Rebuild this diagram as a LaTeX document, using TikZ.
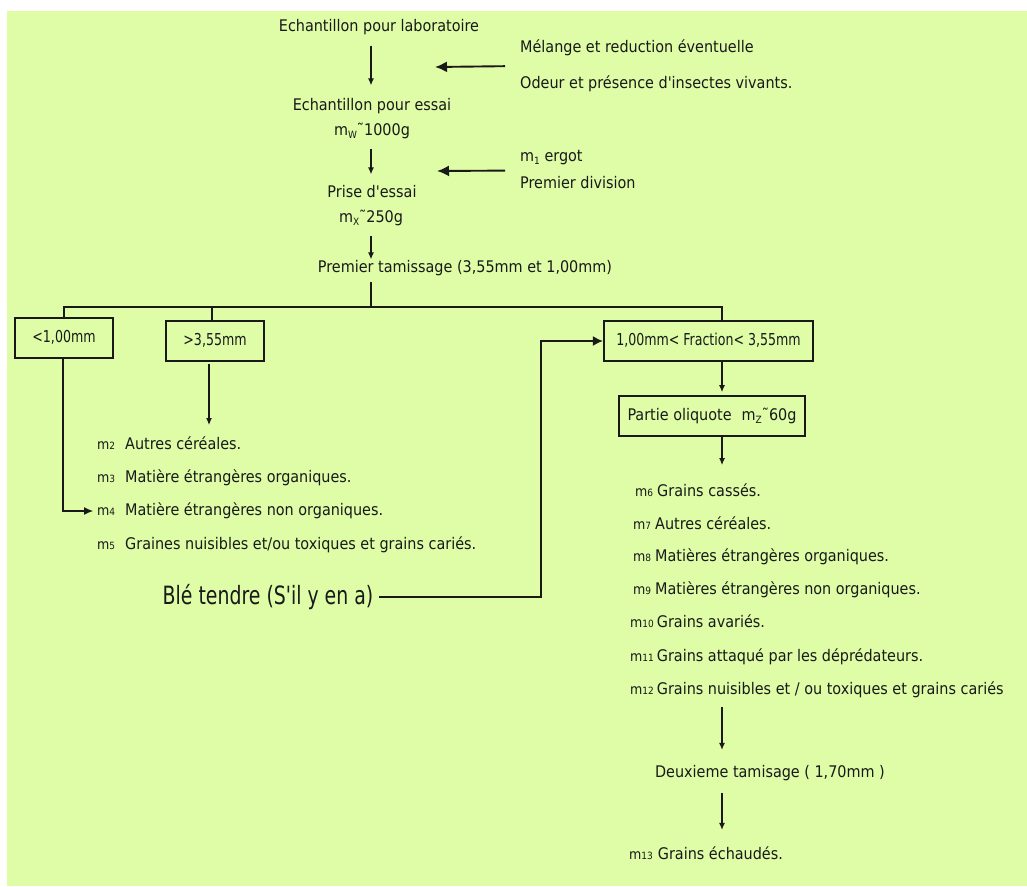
\documentclass[tikz,border=0pt]{standalone}
\usepackage{fontspec}
\setmainfont{DejaVu Sans Condensed}
\usetikzlibrary{arrows.meta,calc}
\definecolor{bg}{RGB}{222,253,166}
\definecolor{ink}{RGB}{25,25,25}
\newcommand{\sbw}[1]{\raisebox{-0.35ex}{\fontsize{10}{10}\selectfont #1}}
\newcommand{\mk}[2][4pt]{{\fontsize{14}{14}\selectfont m}{\fontsize{10}{10}\selectfont #2}\hspace{#1}}
\newcommand{\q}{\textquotesingle}
\newcommand{\tall}[1]{\scalebox{1}[1.17]{#1}}
\begin{document}
\begin{tikzpicture}[x=1pt,y=-1pt,
  txt/.style={inner sep=0pt, text=ink, font=\fontsize{16}{19}\selectfont, text height=11pt, text depth=3pt},
  row/.style={txt, anchor=west},
  box/.style={txt, draw=ink, line width=1.3pt, minimum height=40pt},
  boxs/.style={box, font=\fontsize{14}{17}\selectfont, text height=12pt},
  ln/.style={draw=ink, line width=1.1pt},
  arr/.style={ln, -{Latex[length=7pt,width=6pt]}},
  bigarr/.style={draw=ink, line width=1.9pt, -{Latex[length=12pt,width=11pt]}}]
\useasboundingbox (0,0) rectangle (1027,886);
\fill[bg] (7,11) rectangle (1027,886);

\coordinate (ax) at (371,0);
\node[txt] (lab) at (379,27) {Echantillon pour laboratoire};
\node[row] (mel) at (520,48) {Mélange et reduction éventuelle};
\node[row] (od) at (520,84) {Odeur et présence d\q insectes vivants.};
\node[txt] (ess) at (372,106) {Echantillon pour essai};
\node[txt] (mw) at (372,131) {m\sbw{W}˜1000g};
\node[row] (erg) at (520,157) {m\sbw{1} ergot};
\node[row] (div) at (520,184) {Premier division};
\node[txt] (pe) at (372,193) {Prise d\q essai};
\node[txt] (mx) at (371,218) {m\sbw{X}˜250g};
\node[txt] (tam) at (465,268) {Premier tamissage (3,55mm et 1,00mm)};

\coordinate (t1) at (435,67);
\coordinate (t2) at (437,171);
\draw[arr, shorten <=11.5, shorten >=13.5] (lab.south -| ax) -- (ess.north -| ax);
\draw[bigarr, shorten <=15] ($(mel.west)!.5!(od.west)$) -- (t1);
\draw[arr, shorten <=10.5, shorten >=11.5] (mw.south -| ax) -- (pe.north -| ax);
\draw[bigarr, shorten <=15] ($(erg.west)!.5!(div.west)$) -- (t2);
\draw[arr, shorten <=10.5, shorten >=1.5] (mx.south -| ax) -- (tam.north -| ax);

% boxes
\node[boxs, minimum width=98pt] (lt) at (64,338) {\tall{<1,00mm}};
\node[boxs, minimum width=98pt] (gt) at (215,341) {\tall{>3,55mm}};
\node[boxs, minimum width=209pt, line width=2.4pt] (fr) at (708.5,341) {\tall{1,00mm< Fraction< 3,55mm}};
\node[box, minimum width=186pt, line width=1.8pt] (po) at (712,416) {Partie oliquote\hspace{10pt}m\sbw{Z}˜60g};

\coordinate (split) at (371,307);
\coordinate (frj) at (722,307);
\draw[ln, shorten <=7] (tam.south -| split) -- (split);
\draw[ln] (lt.north) -- (lt.north |- split) -- (frj) -- (frj |- fr.north);
\draw[ln] (gt.north -| 212,0) -- (212,307);

% left list
\node[row] (m2) at (97,445) {\mk[10pt]{2}Autres céréales.};
\node[row] (m3) at (97,478) {\mk[10pt]{3}Matière étrangères organiques.};
\node[row] (m4) at (97,511) {\mk[10pt]{4}Matière étrangères non organiques.};
\node[row] (m5) at (97,545) {\mk[10pt]{5}Graines nuisibles et/ou toxiques et grains cariés.};
\coordinate (g1) at (209,425);
\draw[arr, shorten <=2] (gt.south -| g1) -- (g1);
\draw[ln, -{Latex[length=9pt,width=8pt]}, shorten >=4] (lt.south -| 63,0) -- (63,511) -- (m4.west);

% blé tendre
\node[txt, font=\fontsize{21}{24}\selectfont, text height=18pt, text depth=4pt] (ble) at (268,597) {\scalebox{1}[1.2]{Blé tendre (S\q il y en a)}};
\coordinate (bj) at (541,341);
\draw[ln, -{Latex[length=10pt,width=10pt]}, line width=1.3pt, shorten <=6] (ble.east) -- (ble.east -| bj) |- (fr.west);

% right branch
\draw[arr, shorten >=3] (fr.south -| frj) -- (po.north -| frj);
\coordinate (p1) at (722,465);
\draw[arr] (po.south -| frj) -- (p1);
\node[row] (m6) at (635,492) {\mk{6}Grains cassés.};
\node[row] (m7) at (633,525) {\mk{7}Autres céréales.};
\node[row] (m8) at (633,557) {\mk{8}Matières étrangères organiques.};
\node[row] (m9) at (633,590) {\mk{9}Matières étrangères non organiques.};
\node[row] (m10) at (630,623) {\mk[3pt]{10}Grains avariés.};
\node[row] (m11) at (630,657) {\mk[3pt]{11}Grains attaqué par les déprédateurs.};
\node[row] (m12) at (630,690) {\mk[3pt]{12}Grains nuisibles et / ou toxiques et grains cariés};
\node[txt] (deux) at (770,773) {Deuxieme tamisage ( 1,70mm )};
\node[row] (m13) at (629,855) {\mk[5pt]{13}Grains échaudés.};
\draw[arr, shorten <=10, shorten >=16] (m12.south -| frj) -- (deux.north -| frj);
\draw[arr, shorten <=13, shorten >=18] (deux.south -| frj) -- (m13.north -| frj);
\end{tikzpicture}
\end{document}
